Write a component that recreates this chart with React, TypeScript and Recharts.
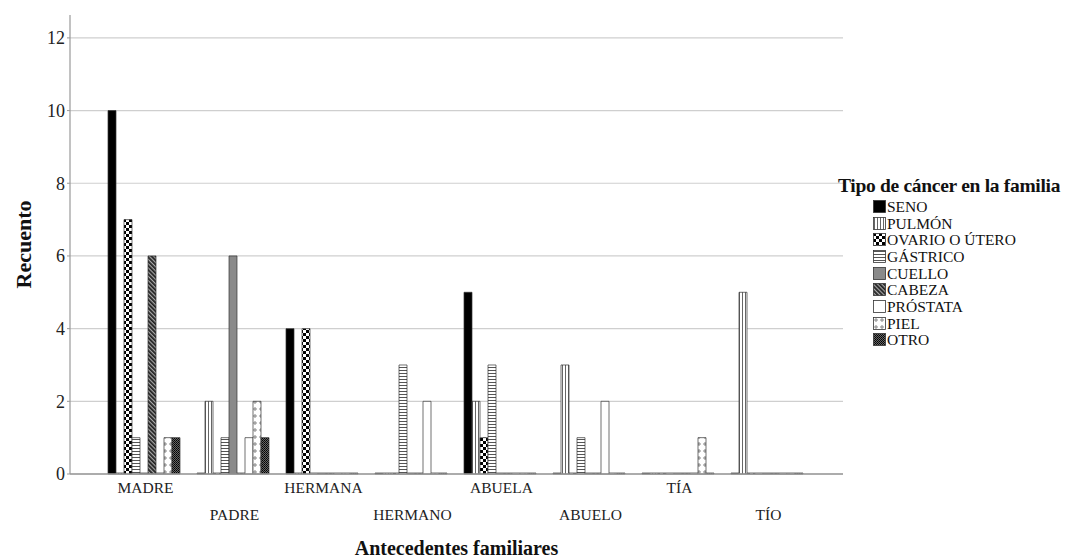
import { BarChart, Bar, XAxis, YAxis, CartesianGrid } from "recharts";

const relatives = ["MADRE", "PADRE", "HERMANA", "HERMANO", "ABUELA", "ABUELO", "TÍA", "TÍO"];

const seno = [10, 0, 4, 0, 5, 0, 0, 0];
const pulmon = [0, 2, 0, 0, 2, 3, 0, 5];
const ovario = [7, 0, 4, 0, 1, 0, 0, 0];
const gastrico = [1, 1, 0, 3, 3, 1, 0, 0];
const cuello = [0, 6, 0, 0, 0, 0, 0, 0];
const cabeza = [6, 0, 0, 0, 0, 0, 0, 0];
const prostata = [0, 1, 0, 2, 0, 2, 0, 0];
const piel = [1, 2, 0, 0, 0, 0, 1, 0];
const otro = [1, 1, 0, 0, 0, 0, 0, 0];

const yTicks = [0, 2, 4, 6, 8, 10, 12];
const yMax = 12.63;

const series = [
  { key: "seno", name: "SENO", values: seno, fill: "#000" },
  { key: "pulmon", name: "PULMÓN", values: pulmon, fill: "url(#pVert)" },
  { key: "ovario", name: "OVARIO O ÚTERO", values: ovario, fill: "url(#pCheck)" },
  { key: "gastrico", name: "GÁSTRICO", values: gastrico, fill: "url(#pHoriz)" },
  { key: "cuello", name: "CUELLO", values: cuello, fill: "#8a8a8a" },
  { key: "cabeza", name: "CABEZA", values: cabeza, fill: "url(#pDiag)" },
  { key: "prostata", name: "PRÓSTATA", values: prostata, fill: "#fff" },
  { key: "piel", name: "PIEL", values: piel, fill: "url(#pPlus)" },
  { key: "otro", name: "OTRO", values: otro, fill: "url(#pDots)" },
];

const data = relatives.map((r, i) => {
  const row: Record<string, string | number> = { relative: r };
  series.forEach((s) => (row[s.key] = s.values[i]));
  return row;
});

const FONT = "'Liberation Serif', 'DejaVu Serif', serif";

const Patterns = () => (
  <defs>
    <pattern id="pVert" width="3" height="4" patternUnits="userSpaceOnUse">
      <rect width="3" height="4" fill="#fff" />
      <rect x="1" width="1" height="4" fill="#666" />
    </pattern>
    <pattern id="pCheck" width="6" height="6" patternUnits="userSpaceOnUse">
      <rect width="6" height="6" fill="#fff" />
      <rect width="3" height="3" fill="#000" />
      <rect x="3" y="3" width="3" height="3" fill="#000" />
    </pattern>
    <pattern id="pHoriz" width="4" height="3" patternUnits="userSpaceOnUse">
      <rect width="4" height="3" fill="#fff" />
      <rect y="1" width="4" height="1" fill="#555" />
    </pattern>
    <pattern id="pDiag" width="3" height="3" patternUnits="userSpaceOnUse" patternTransform="rotate(-45)">
      <rect width="3" height="3" fill="#aaa" />
      <rect width="1.8" height="3" fill="#222" />
    </pattern>
    <pattern id="pPlus" width="6" height="7" patternUnits="userSpaceOnUse">
      <rect width="6" height="7" fill="#fff" />
      <rect x="2.5" y="1" width="1" height="4" fill="#888" />
      <rect x="1" y="2.5" width="4" height="1" fill="#888" />
    </pattern>
    <pattern id="pDots" width="2" height="2" patternUnits="userSpaceOnUse">
      <rect width="2" height="2" fill="#666" />
      <rect width="1" height="1" fill="#000" />
      <rect x="1" y="1" width="1" height="1" fill="#111" />
    </pattern>
  </defs>
);

const StaggerTick = (props: any) => {
  const { x, y, payload, index } = props;
  const dy = index % 2 === 0 ? 11 : 38;
  return (
    <text x={x} y={y + dy} textAnchor="middle" fontFamily={FONT} fontSize={15.5} fill="#222">
      {payload.value}
    </text>
  );
};

const Legend = () => (
  <div style={{ position: "absolute", left: 838, top: 175, fontFamily: FONT, color: "#111" }}>
    <div style={{ fontWeight: "bold", fontSize: 19.5, whiteSpace: "nowrap", lineHeight: "21px", letterSpacing: -0.3 }}>
      Tipo de cáncer en la familia
    </div>
    <div style={{ marginLeft: 35, marginTop: 2 }}>
      {series.map((s) => (
        <div key={s.key} style={{ display: "flex", alignItems: "center", height: 16.7, fontSize: 15.5, whiteSpace: "nowrap" }}>
          <svg width={13} height={13} style={{ marginRight: 1 }}>
            <rect x={0.5} y={0.5} width={12} height={12} fill={s.fill} stroke="#333" strokeWidth={0.8} />
          </svg>
          <span style={{ lineHeight: "15px" }}>{s.name}</span>
        </div>
      ))}
    </div>
  </div>
);

// grid only at the labelled ticks (no line at the top edge)
const gridRows = ({ offset }: any) =>
  yTicks.map((t) => offset.top + offset.height * (1 - t / yMax));

export default function App() {
  return (
    <div style={{ position: "absolute", left: 0, top: 0, width: 1086, height: 559, background: "#fff" }}>
      <BarChart
        width={1086}
        height={559}
        data={data}
        margin={{ top: 15, right: 243, bottom: 25, left: 30 }}
        barGap={0}
        barCategoryGap={7}
      >
        <Patterns />
        <CartesianGrid
          vertical={false}
          stroke="#cfcfcf"
          strokeWidth={1.2}
          horizontalCoordinatesGenerator={gridRows}
        />
        <XAxis
          dataKey="relative"
          interval={0}
          height={60}
          padding={{ left: 31, right: 30 }}
          axisLine={{ stroke: "#999", strokeWidth: 1.5 }}
          tickLine={false}
          tick={<StaggerTick />}
          label={{
            content: (p: any) => (
              <text
                x={p.viewBox.x + p.viewBox.width / 2}
                y={555}
                textAnchor="middle"
                fontFamily={FONT}
                fontWeight="bold"
                fontSize={20}
                fill="#111"
              >
                Antecedentes familiares
              </text>
            ),
          }}
        />
        <YAxis
          width={40}
          domain={[0, yMax]}
          ticks={yTicks}
          axisLine={{ stroke: "#999", strokeWidth: 1.2 }}
          tickLine={{ stroke: "#999" }}
          tickSize={3}
          tick={{ fontFamily: FONT, fontSize: 18, fill: "#222" }}
          label={{
            content: (p: any) => (
              <text
                x={31}
                y={p.viewBox.y + p.viewBox.height / 2}
                textAnchor="middle"
                transform={`rotate(-90 31 ${p.viewBox.y + p.viewBox.height / 2})`}
                fontFamily={FONT}
                fontWeight="bold"
                fontSize={22}
                fill="#111"
              >
                Recuento
              </text>
            ),
          }}
        />
        {series.map((s) => (
          <Bar
            key={s.key}
            dataKey={s.key}
            name={s.name}
            fill={s.fill}
            stroke="#333"
            strokeWidth={0.7}
            minPointSize={1}
            isAnimationActive={false}
          />
        ))}
      </BarChart>
      <Legend />
    </div>
  );
}
